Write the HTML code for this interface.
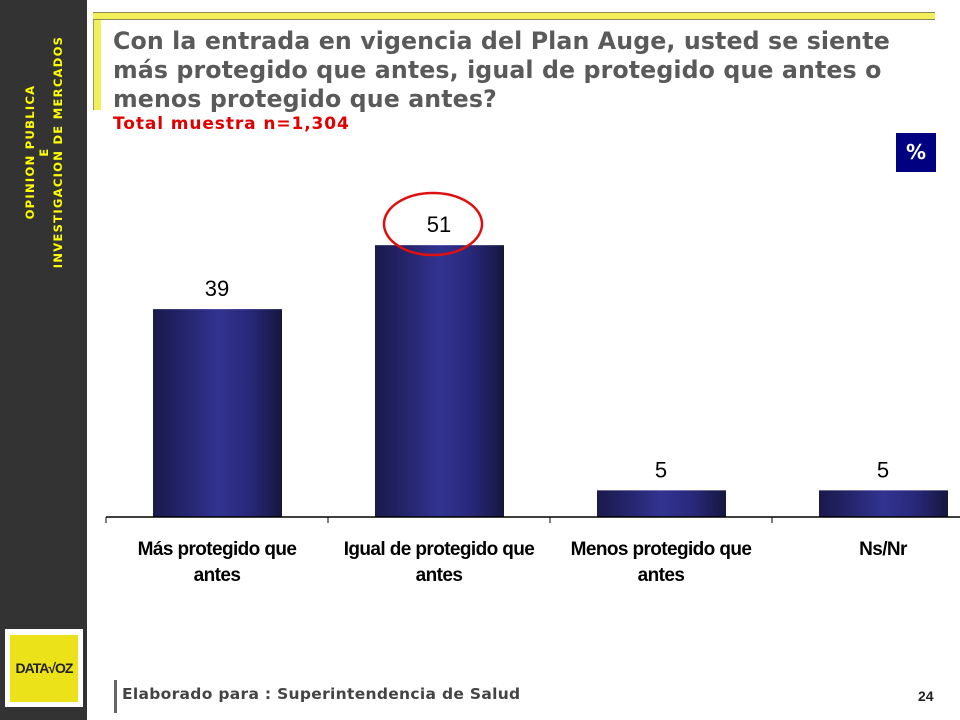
<!DOCTYPE html>
<html><head><meta charset="utf-8"><style>
body{margin:0;width:960px;height:720px;position:relative;background:#fff;overflow:hidden;font-family:"Liberation Sans",sans-serif}
.abs{position:absolute}
</style></head><body>
<div class="abs" style="left:0;top:0;width:87px;height:720px;background:#333"></div>
<div class="abs" style="left:44px;top:152px;width:280px;transform:translate(-50%,-50%) rotate(-90deg);color:#ffff00;font:bold 11.5px 'DejaVu Sans',sans-serif;text-align:center;line-height:14px;letter-spacing:1.3px">OPINION PUBLICA<br>E<br>INVESTIGACION DE MERCADOS</div>
<div class="abs" style="left:5px;top:629px;width:78px;height:78px;background:#fff"><div style="position:absolute;left:5px;top:6px;width:68px;height:67px;background:#ece21a;font:bold 14px 'Liberation Sans',sans-serif;color:#222;text-align:center;line-height:67px;letter-spacing:-1px">DATA√OZ</div></div>
<div class="abs" style="left:93px;top:12px;width:7px;height:98px;background:#f2ef5a;border-left:1px solid #999960"></div>
<div class="abs" style="left:93px;top:12px;width:842px;height:6px;background:#f2ef5a;border-top:1px solid #888850;border-bottom:1px solid #888850"></div>
<div class="abs" style="left:113px;top:27px;width:820px;color:#5a5a5a;font:bold 23.7px 'DejaVu Sans',sans-serif;line-height:29px;letter-spacing:0.1px">Con la entrada en vigencia del Plan Auge, usted se siente más protegido que antes, igual de protegido que antes o menos protegido que antes?</div>
<div class="abs" style="left:113px;top:114px;color:#e00000;font:bold 17px 'DejaVu Sans',sans-serif;letter-spacing:0.9px">Total muestra n=1,304</div>
<div class="abs" style="left:896px;top:133px;width:40px;height:39px;background:#000080;color:#fff;font:bold 20px 'DejaVu Sans',sans-serif;text-align:center;line-height:39px">%</div>
<svg class="abs" style="left:0;top:0" width="960" height="720">
<defs><linearGradient id="g" x1="0" x2="1" y1="0" y2="0">
<stop offset="0" stop-color="#1a1a4a"/><stop offset="0.15" stop-color="#202060"/><stop offset="0.5" stop-color="#323390"/><stop offset="0.75" stop-color="#28287a"/><stop offset="1" stop-color="#16163e"/></linearGradient></defs>
<g id="bars"></g>
<line x1="106" y1="517" x2="960" y2="517" stroke="#000" stroke-width="1.5"/>
<g id="ticks"></g>
<ellipse cx="433" cy="224" rx="49" ry="31" fill="none" stroke="#e01010" stroke-width="2.5"/>
</svg>
<div class="abs" style="left:114px;top:680px;width:3px;height:33px;background:#666"></div>
<div class="abs" style="left:122px;top:685px;color:#444;font:bold 15.5px 'DejaVu Sans',sans-serif;letter-spacing:0.3px">Elaborado para : Superintendencia de Salud</div>
<div class="abs" style="left:918px;top:688px;color:#222;font:bold 14px 'Liberation Sans',sans-serif">24</div>
<script>
const categories=[["Más protegido que","antes"],["Igual de protegido que","antes"],["Menos protegido que","antes"],["Ns/Nr"]];
const values=[39,51,5,5];
const labels=["39","51","5","5"];
const base=517,x0=106,cw=222,k=5.33,bw=129;
const ns="http://www.w3.org/2000/svg";
const gb=document.getElementById('bars'),gt=document.getElementById('ticks');
const y=v=>base-v*k;
const xc=i=>x0+cw*i+cw/2;
values.forEach((v,i)=>{
 const r=document.createElementNS(ns,'rect');
 
 
 r.setAttribute('x',xc(i)-bw/2+0.5);r.setAttribute('y',y(v));r.setAttribute('width',bw);r.setAttribute('height',v*k);r.setAttribute('fill','url(#g)');
 gb.appendChild(r);
 const t=document.createElementNS(ns,'text');
 
 
 t.setAttribute('x',xc(i));t.setAttribute('y',y(v)-13);t.setAttribute('text-anchor','middle');t.setAttribute('font-size','22');t.setAttribute('font-family','Liberation Sans,sans-serif');
 t.textContent=labels[i];gb.appendChild(t);
 categories[i].forEach((ln,j)=>{
  const c=document.createElementNS(ns,'text');
  
  
  c.setAttribute('x',xc(i));c.setAttribute('y',555+j*26);c.setAttribute('text-anchor','middle');c.setAttribute('font-size','19');c.setAttribute('font-weight','bold');c.setAttribute('letter-spacing','-0.6');c.setAttribute('font-family','Liberation Sans,sans-serif');
  c.textContent=ln;gb.appendChild(c);
 });
});
for(let i=0;i<=categories.length;i++){
 const l=document.createElementNS(ns,'line');
 
 
 l.setAttribute('x1',x0+cw*i);l.setAttribute('x2',x0+cw*i);l.setAttribute('y1',517);l.setAttribute('y2',523);l.setAttribute('stroke','#000');
 gt.appendChild(l);
}
</script>
</body></html>
